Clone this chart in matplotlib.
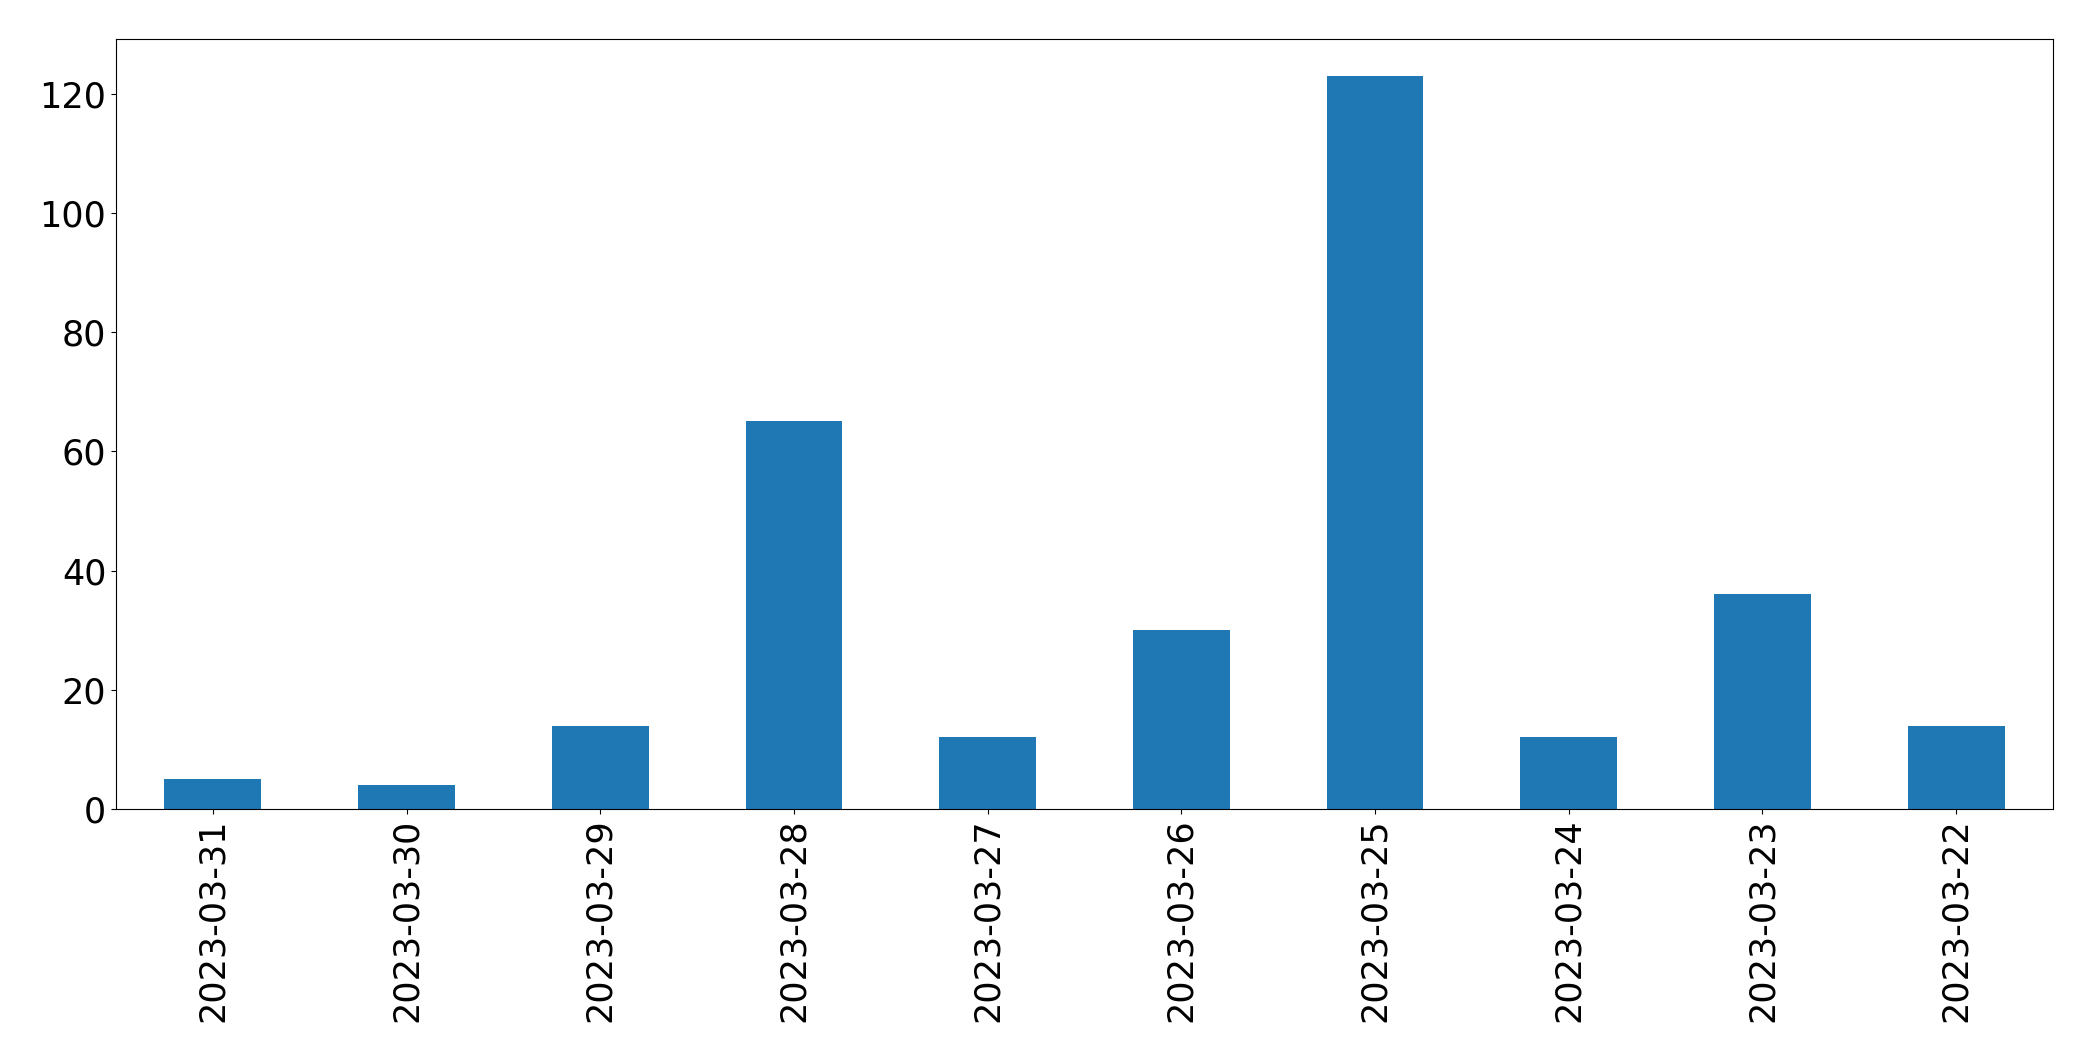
import matplotlib
matplotlib.use("Agg")
import matplotlib.pyplot as plt

dates = ["2023-03-31", "2023-03-30", "2023-03-29", "2023-03-28", "2023-03-27",
         "2023-03-26", "2023-03-25", "2023-03-24", "2023-03-23", "2023-03-22"]
counts = [5, 4, 14, 65, 12, 30, 123, 12, 36, 14]

fig = plt.figure(figsize=(20.93, 10.61), dpi=100)
ax = fig.add_axes([116 / 2093, 1 - 809 / 1061, (2053 - 116) / 2093, (809 - 39) / 1061])

x = list(range(len(dates)))
ax.bar(x, counts, width=0.5, color="#1f77b4")
ax.set_xlim(-0.5, len(dates) - 0.5)
ax.set_ylim(0, max(counts) * 1.05)
ax.set_xticks(x)
ax.set_xticklabels(dates, rotation=90)
ax.tick_params(labelsize=25.2)

fig.savefig("out.png", dpi=100)
